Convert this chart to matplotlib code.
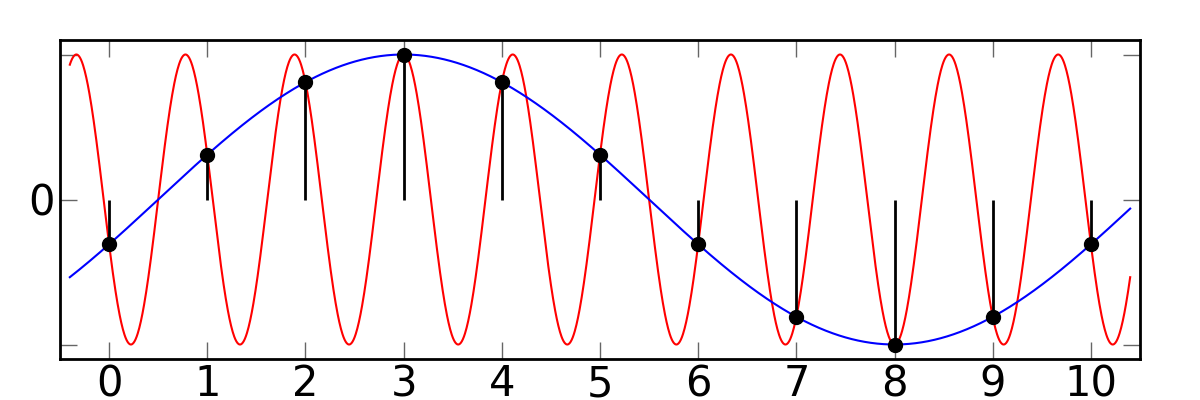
import numpy as np
import matplotlib.pyplot as plt

# sample points (n) and their values
n = [0, 1, 2, 3, 4, 5, 6, 7, 8, 9, 10]
samples = [-0.309, 0.309, 0.809, 1.0, 0.809, 0.309, -0.309, -0.809, -1.0, -0.809, -0.309]

# the two sinusoids that pass through the samples
f_low = 0.1
f_high = 0.9
shift = 3.0
x_start, x_end = -0.4, 10.4

xticks = [0, 1, 2, 3, 4, 5, 6, 7, 8, 9, 10]
yticks = [-1, 0, 1]
ytick_labels = ['', '0', '']


def main():
    x = np.linspace(x_start, x_end, 2000)
    low = np.cos(2 * np.pi * f_low * (x - shift))
    high = np.cos(2 * np.pi * f_high * (x - shift))

    fig = plt.figure(figsize=(12, 4), dpi=100)
    ax = fig.add_axes([0.05, 0.1025, 0.9, 0.7975])

    ax.plot(x, high, color='red', lw=1.5)
    ax.plot(x, low, color='blue', lw=1.5)
    ax.vlines(n, 0, samples, color='black', lw=2)
    ax.plot(n, samples, 'o', color='black', markersize=10)

    ax.set_xlim(-0.5, 10.5)
    ax.set_ylim(-1.1, 1.1)
    ax.set_xticks(xticks)
    ax.set_yticks(yticks)
    ax.set_yticklabels(ytick_labels)
    ax.tick_params(direction='in', length=12, width=1, color='#666666',
                   top=True, right=True, labelsize=30)
    ax.tick_params(axis='x', pad=3)
    ax.tick_params(axis='y', pad=4)
    for s in ax.spines.values():
        s.set_linewidth(2)

    fig.savefig('out.png', dpi=100)


if __name__ == "__main__":
    main()
